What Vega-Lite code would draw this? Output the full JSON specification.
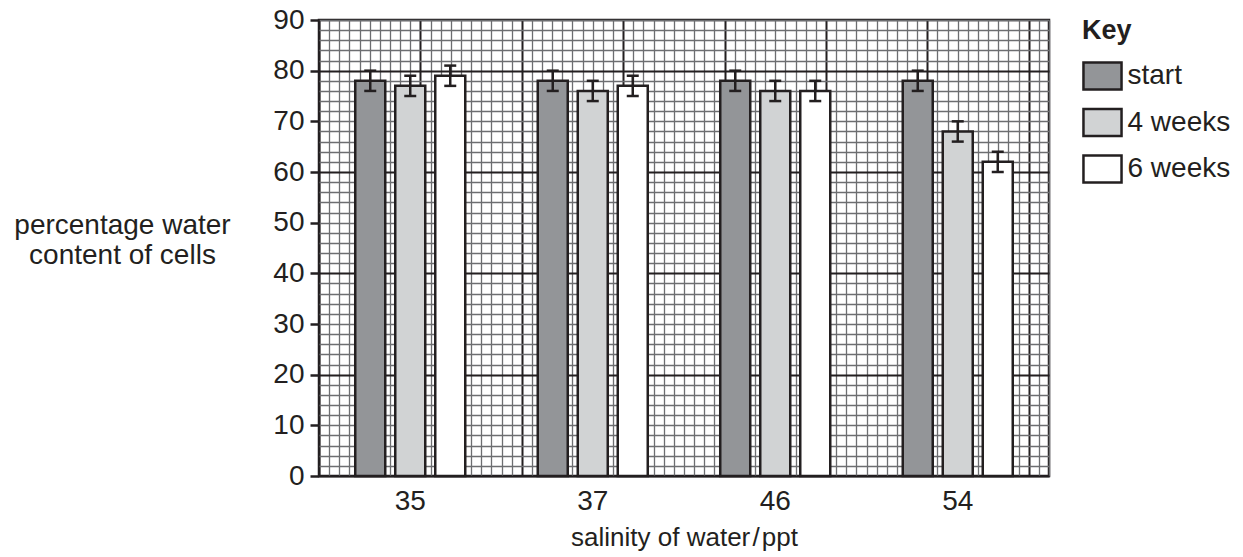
{
  "$schema": "https://vega.github.io/schema/vega-lite/v6.json",
  "width": 730,
  "height": 456,
  "autosize": "none",
  "padding": {"left": 319, "top": 20, "right": 194, "bottom": 81},
  "background": "white",
  "config": {
    "font": "Liberation Sans",
    "view": {"stroke": "#231f20", "strokeWidth": 2.5},
    "axis": {"labelFont": "Liberation Sans", "titleFont": "Liberation Sans", "labelColor": "#231f20", "titleColor": "#231f20"},
    "legend": {"labelFont": "Liberation Sans", "titleFont": "Liberation Sans", "labelColor": "#231f20", "titleColor": "#231f20"}
  },
  "data": {
    "values": [
      {"salinity": "35", "series": "start", "pct": 78, "lo": 76, "hi": 80},
      {"salinity": "35", "series": "4 weeks", "pct": 77, "lo": 75, "hi": 79},
      {"salinity": "35", "series": "6 weeks", "pct": 79, "lo": 77, "hi": 81},
      {"salinity": "37", "series": "start", "pct": 78, "lo": 76, "hi": 80},
      {"salinity": "37", "series": "4 weeks", "pct": 76, "lo": 74, "hi": 78},
      {"salinity": "37", "series": "6 weeks", "pct": 77, "lo": 75, "hi": 79},
      {"salinity": "46", "series": "start", "pct": 78, "lo": 76, "hi": 80},
      {"salinity": "46", "series": "4 weeks", "pct": 76, "lo": 74, "hi": 78},
      {"salinity": "46", "series": "6 weeks", "pct": 76, "lo": 74, "hi": 78},
      {"salinity": "54", "series": "start", "pct": 78, "lo": 76, "hi": 80},
      {"salinity": "54", "series": "4 weeks", "pct": 68, "lo": 66, "hi": 70},
      {"salinity": "54", "series": "6 weeks", "pct": 62, "lo": 60, "hi": 64}
    ]
  },
  "layer": [
    {
      "mark": {"type": "rule", "opacity": 0, "clip": true},
      "encoding": {
        "x": {
          "field": "pct",
          "type": "quantitative",
          "scale": {"domain": [0, 72], "nice": false, "zero": false},
          "axis": {
            "orient": "top",
            "values": [0,1,2,3,4,5,6,7,8,9,10,11,12,13,14,15,16,17,18,19,20,21,22,23,24,25,26,27,28,29,30,31,32,33,34,35,36,37,38,39,40,41,42,43,44,45,46,47,48,49,50,51,52,53,54,55,56,57,58,59,60,61,62,63,64,65,66,67,68,69,70,71,72],
            "grid": true,
            "gridColor": {"condition": {"test": "datum.value % 10 === 0", "value": "#231f20"}, "value": "#6d6e71"},
            "gridWidth": {"condition": {"test": "datum.value % 10 === 0", "value": 2}, "value": 1.3},
            "labels": false,
            "ticks": false,
            "domain": false,
            "title": null
          }
        }
      }
    },
    {
      "layer": [
        {
          "mark": {"type": "bar", "stroke": "#231f20", "strokeWidth": 2.5},
          "encoding": {
            "x": {
              "field": "salinity",
              "type": "nominal",
              "sort": ["35", "37", "46", "54"],
              "scale": {"paddingInner": 0, "paddingOuter": 0},
              "axis": {
                "orient": "bottom",
                "ticks": false,
                "domain": false,
                "grid": false,
                "labelAngle": 0,
                "labelFontSize": 28,
                "labelPadding": 11,
                "title": "salinity of water\u200a/\u200appt",
                "titleFontSize": 26,
                "titleFontWeight": "normal",
                "titlePadding": 9
              }
            },
            "xOffset": {
              "field": "series",
              "type": "nominal",
              "sort": ["start", "4 weeks", "6 weeks"],
              "scale": {"paddingInner": 0.25, "paddingOuter": 0.906}
            },
            "y": {
              "field": "pct",
              "type": "quantitative",
              "scale": {"domain": [0, 90], "nice": false},
              "axis": {
                "values": [0,2,4,6,8,10,12,14,16,18,20,22,24,26,28,30,32,34,36,38,40,42,44,46,48,50,52,54,56,58,60,62,64,66,68,70,72,74,76,78,80,82,84,86,88,90],
                "grid": true,
                "gridColor": {"condition": {"test": "datum.value % 20 === 0", "value": "#231f20"}, "value": "#6d6e71"},
                "gridWidth": {"condition": {"test": "datum.value % 20 === 0", "value": 2}, "value": 1.3},
                "labelExpr": "datum.value % 10 === 0 ? datum.label : ''",
                "labelOverlap": false,
                "labelFontSize": 28,
                "labelPadding": 6,
                "tickSize": 9,
                "tickWidth": 2.5,
                "tickColor": "#231f20",
                "tickOpacity": {"condition": {"test": "datum.value % 10 === 0", "value": 1}, "value": 0},
                "domain": false,
                "title": ["percentage water", "content of cells"],
                "titleAngle": 0,
                "titleAlign": "center",
                "titleBaseline": "alphabetic",
                "titleX": -197,
                "titleY": 213,
                "titleFontSize": 28,
                "titleFontWeight": "normal",
                "titleLineHeight": 30
              }
            },
            "fill": {
              "field": "series",
              "type": "nominal",
              "scale": {"domain": ["start", "4 weeks", "6 weeks"], "range": ["#939598", "#d1d3d4", "#ffffff"]},
              "legend": {
                "title": "Key",
                "orient": "none",
                "legendX": 763,
                "legendY": -2,
                "padding": 0,
                "symbolType": "M-1.41,-1H1.41V1H-1.41Z",
                "symbolSize": 729,
                "symbolOffset": 5.5,
                "symbolStrokeColor": "#231f20",
                "symbolStrokeWidth": 2.5,
                "symbolOpacity": 1,
                "labelFontSize": 28,
                "labelOffset": 10,
                "rowPadding": 8.5,
                "titleFontSize": 27,
                "titleFontWeight": "bold",
                "titlePadding": 16
              }
            }
          }
        },
        {
          "mark": {"type": "rule", "color": "#231f20", "strokeWidth": 2.5},
          "encoding": {
            "x": {"field": "salinity", "type": "nominal", "sort": ["35", "37", "46", "54"]},
            "xOffset": {"field": "series", "type": "nominal", "sort": ["start", "4 weeks", "6 weeks"]},
            "y": {"field": "lo", "type": "quantitative", "axis": null},
            "y2": {"field": "hi"}
          }
        },
        {
          "mark": {"type": "tick", "color": "#231f20", "size": 12, "thickness": 2.5, "opacity": 1},
          "encoding": {
            "x": {"field": "salinity", "type": "nominal", "sort": ["35", "37", "46", "54"]},
            "xOffset": {"field": "series", "type": "nominal", "sort": ["start", "4 weeks", "6 weeks"]},
            "y": {"field": "lo", "type": "quantitative", "axis": null}
          }
        },
        {
          "mark": {"type": "tick", "color": "#231f20", "size": 12, "thickness": 2.5, "opacity": 1},
          "encoding": {
            "x": {"field": "salinity", "type": "nominal", "sort": ["35", "37", "46", "54"]},
            "xOffset": {"field": "series", "type": "nominal", "sort": ["start", "4 weeks", "6 weeks"]},
            "y": {"field": "hi", "type": "quantitative", "axis": null}
          }
        }
      ],
      "resolve": {"axis": {"y": "independent"}}
    }
  ],
  "resolve": {"scale": {"x": "independent"}, "axis": {"x": "independent"}}
}
